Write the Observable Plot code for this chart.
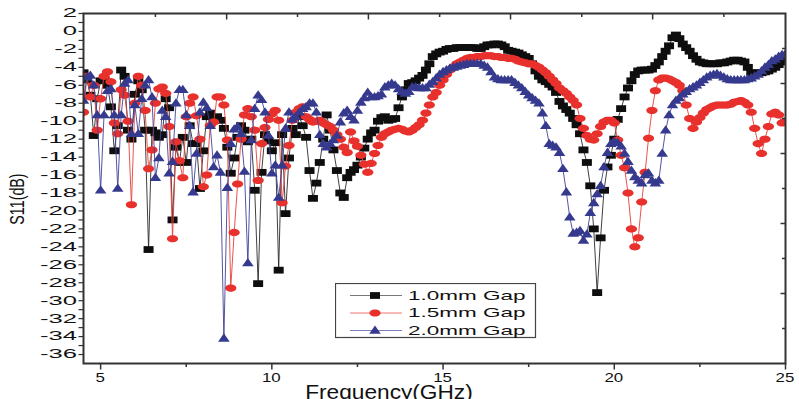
<!DOCTYPE html>
<html><head><meta charset="utf-8">
<script src="https://cdn.jsdelivr.net/npm/d3@7"></script>
<script src="https://cdn.jsdelivr.net/npm/@observablehq/plot@0.6"></script>
<style>
body{margin:0;background:#fff;}
#wrap{position:relative;width:799px;height:399px;overflow:hidden;font-family:"Liberation Sans",Arial,sans-serif;}
#legend{position:absolute;left:335px;top:283px;}
</style></head><body><div id="wrap"></div>
<script>
// ---- data (S11 in dB, sampled every 0.1 GHz from 4.5 GHz) ----
const freqStart = 4.5, freqStep = 0.1;
const seriesNames = ["1.0mm Gap", "1.5mm Gap", "2.0mm Gap"];
const gap10 = [
 -4.6,-5.4,-7.1,-11.6,-7.5,-5.5,-5.4,-6.0,-8.4,-13.3,
 -10.5,-4.3,-5.0,-11.0,-12.0,-7.0,-5.5,-6.5,-11.0,-24.3,
 -11.0,-11.3,-11.8,-11.5,-7.5,-8.5,-21.0,-12.9,-14.6,-11.8,
 -14.6,-10.5,-12.5,-12.5,-17.5,-13.3,-9.5,-9.1,-9.6,-9.5,
 -9.9,-10.8,-12.9,-15.8,-14.1,-11.8,-10.5,-11.0,-12.3,-12.0,
 -17.7,-28.1,-15.7,-11.5,-12.2,-13.3,-12.4,-26.6,-11.5,-20.3,
 -14.1,-10.8,-11.5,-9.5,-10.5,-11.8,-15.5,-18.6,-16.9,-14.6,
 -12.0,-9.3,-11.0,-13.2,-15.5,-18.0,-18.5,-16.3,-15.7,-15.4,
 -14.9,-14.0,-13.0,-12.0,-11.3,-11.0,-10.0,-9.6,-9.5,-9.9,
 -9.8,-9.7,-8.5,-7.3,-6.5,-5.8,-5.7,-5.5,-5.2,-4.9,
 -4.3,-3.6,-2.8,-2.5,-2.3,-2.2,-2.0,-1.9,-1.9,-1.8,
 -1.8,-1.8,-1.8,-1.8,-1.8,-1.9,-1.9,-1.7,-1.5,-1.5,
 -1.4,-1.4,-1.5,-1.7,-2.1,-2.2,-2.3,-2.4,-2.6,-2.8,
 -3.0,-3.6,-4.4,-5.0,-5.4,-5.6,-5.9,-6.2,-6.8,-7.8,
 -8.3,-8.7,-9.1,-9.7,-10.4,-11.4,-13.2,-14.6,-17.2,-22.0,
 -29.1,-23.0,-17.7,-15.1,-13.8,-12.0,-9.8,-8.6,-7.3,-6.3,
 -5.5,-4.8,-4.4,-4.3,-4.3,-4.3,-4.2,-3.8,-3.4,-2.8,
 -2.2,-1.6,-0.7,-0.4,-0.8,-1.4,-1.8,-2.2,-2.7,-3.1,
 -3.4,-3.5,-3.6,-3.6,-3.6,-3.6,-3.5,-3.5,-3.4,-3.3,
 -3.2,-3.2,-3.3,-3.4,-4.0,-4.6,-4.7,-4.6,-4.6,-4.5,
 -4.4,-4.2,-4.0,-3.7,-3.4,-3.1];
const gap15 = [
 -9.0,-5.0,-7.3,-6.0,-11.0,-7.5,-5.0,-4.5,-5.6,-10.2,
 -11.4,-6.5,-7.1,-10.0,-19.3,-8.0,-5.0,-6.0,-8.8,-15.3,
 -13.2,-8.0,-6.4,-6.2,-6.9,-10.6,-23.1,-12.3,-14.4,-16.3,
 -9.5,-8.0,-7.3,-9.4,-12.0,-17.3,-16.0,-10.5,-10.1,-7.3,
 -7.3,-8.2,-12.1,-28.6,-22.4,-17.0,-12.0,-9.3,-8.6,-9.5,
 -11.0,-16.6,-12.5,-10.7,-9.8,-9.2,-8.8,-9.9,-19.1,-15.0,
 -12.7,-9.9,-9.0,-8.6,-8.4,-9.5,-9.8,-10.1,-10.0,-9.9,
 -10.2,-10.4,-10.6,-11.0,-11.5,-12.0,-12.9,-13.5,-11.2,-12.2,
 -12.8,-13.8,-14.8,-15.7,-14.7,-13.6,-12.7,-11.8,-11.4,-11.2,
 -11.0,-10.9,-10.8,-10.9,-11.1,-11.2,-11.0,-10.7,-10.4,-9.9,
 -9.1,-8.2,-7.3,-6.8,-6.0,-5.4,-4.8,-4.3,-4.0,-3.6,
 -3.4,-3.2,-3.0,-2.9,-2.9,-2.8,-2.8,-2.7,-2.7,-2.7,
 -2.8,-2.8,-2.9,-2.9,-3.0,-3.0,-3.1,-3.3,-3.4,-3.5,
 -3.6,-3.6,-3.8,-4.0,-4.3,-4.6,-5.0,-5.4,-5.8,-6.3,
 -6.6,-6.9,-7.3,-7.7,-8.2,-9.7,-10.8,-11.6,-12.0,-12.1,
 -11.4,-10.6,-10.1,-9.9,-9.9,-10.2,-12.1,-13.8,-15.2,-18.0,
 -22.0,-24.0,-23.0,-19.0,-15.7,-11.9,-8.8,-6.6,-5.4,-5.2,
 -5.2,-5.3,-5.5,-5.7,-6.0,-6.6,-8.2,-9.7,-10.8,-10.1,
 -9.6,-9.1,-8.7,-8.5,-8.3,-8.2,-8.2,-8.2,-8.2,-8.1,
 -7.9,-7.8,-7.7,-7.9,-8.2,-9.0,-10.8,-12.5,-13.6,-12.0,
 -10.6,-9.2,-9.0,-9.3,-10.2,-10.0];
const gap20 = [
 -7.7,-5.1,-4.9,-6.0,-9.3,-17.7,-9.3,-6.6,-6.4,-9.3,
 -17.5,-9.3,-5.8,-5.4,-11.4,-8.2,-11.4,-7.5,-6.0,-5.4,
 -7.3,-16.3,-14.1,-8.8,-9.5,-15.8,-14.5,-8.0,-6.5,-6.5,
 -9.3,-10.5,-17.9,-13.6,-9.0,-7.9,-8.5,-10.5,-15.1,-13.8,
 -15.7,-34.2,-17.4,-12.5,-10.9,-10.6,-11.4,-15.6,-25.8,-12.1,
 -8.6,-7.1,-7.6,-9.0,-11.6,-15.8,-14.9,-18.5,-14.9,-10.8,
 -9.0,-9.8,-9.5,-9.0,-8.6,-8.4,-8.0,-8.0,-9.0,-11.5,
 -12.5,-12.9,-12.5,-12.1,-11.6,-10.1,-9.1,-8.8,-9.5,-9.9,
 -8.8,-7.9,-7.4,-6.8,-7.3,-7.3,-7.2,-7.0,-6.2,-6.0,
 -5.8,-6.0,-6.4,-6.7,-6.9,-6.7,-6.2,-6.2,-6.3,-6.3,
 -6.3,-5.9,-5.6,-5.2,-4.8,-4.5,-4.3,-4.1,-4.0,-3.9,
 -3.8,-3.7,-3.6,-3.6,-3.6,-3.6,-3.6,-3.8,-4.0,-4.5,
 -5.1,-5.3,-5.4,-5.4,-5.4,-5.4,-5.7,-6.0,-6.3,-6.7,
 -7.1,-7.4,-7.7,-8.0,-9.1,-10.5,-12.5,-12.7,-12.9,-13.5,
 -15.3,-17.9,-20.7,-22.5,-22.4,-22.2,-23.3,-22.6,-20.2,-19.1,
 -18.1,-17.2,-15.1,-13.5,-12.5,-12.3,-12.4,-12.8,-13.6,-14.5,
 -15.5,-16.2,-16.6,-16.9,-16.0,-15.8,-16.6,-16.9,-16.6,-13.6,
 -11.0,-9.3,-8.2,-7.7,-7.4,-7.0,-6.7,-6.4,-6.2,-6.0,
 -5.7,-5.4,-5.1,-4.9,-4.8,-4.7,-4.9,-5.1,-5.3,-5.4,
 -5.4,-5.4,-5.4,-5.4,-5.3,-5.2,-5.0,-4.8,-4.4,-4.0,
 -3.7,-3.3,-3.1,-2.8,-2.6,-2.5];

// tick labels / tick positions
const xTickLabels = [5, 10, 15, 20, 25];
const xMinorTicks = [7.5, 12.5, 17.5, 22.5];
const yTickLabels = [2,0,-2,-4,-6,-8,-10,-12,-14,-16,-18,-20,-22,-24,-26,-28,-30,-32,-34,-36];
const yMinorTicks = [1,-1,-3,-5,-7,-9,-11,-13,-15,-17,-19,-21,-23,-25,-27,-29,-31,-33,-35];
const topMajorTicks = [8.68, 12.82, 16.97, 21.12];
const topMinorTicks = [6.6, 10.75, 14.9, 19.05, 23.2];
const rightMajorTicks = [-5.8, -13.6, -21.4, -29.2];
const rightMinorTicks = [-1.9, -9.7, -17.5, -25.3, -33.1];
const xTitle = "Frequency(GHz)";
const yTitle = "S11(dB)";

// ---- build table ----
const allValues = [gap10, gap15, gap20];
const freq = gap10.map((_, i) => +(freqStart + i * freqStep).toFixed(2));
const tables = allValues.map((vals, s) => vals.map((v, i) => ({f: freq[i], s11: v, series: seriesNames[s]})));

// ---- marker shapes ----
const symSquare = {draw(c){ c.moveTo(-5,-3.4); c.lineTo(5,-3.4); c.lineTo(5,3.4); c.lineTo(-5,3.4); c.closePath(); }};
const symEllipse = {draw(c){ const n=28; for(let k=0;k<n;k++){ const a=2*Math.PI*k/n, px=5.6*Math.cos(a), py=3.6*Math.sin(a); if(k) c.lineTo(px,py); else c.moveTo(px,py);} c.closePath(); }};
const symTri = {draw(c){ c.moveTo(0,-5); c.lineTo(5.8,3.3); c.lineTo(-5.8,3.3); c.closePath(); }};
const tickH = (len) => ({draw(c){ c.moveTo(0,0); c.lineTo(len,0); }});
const tickV = (len) => ({draw(c){ c.moveTo(0,0); c.lineTo(0,len); }});

const markerSyms = [symSquare, symEllipse, symTri];
const markerColors = ["#0e0e0e", "#e8302c", "#363a8e"];
const lineColors = ["#2a2a2a", "#e8403a", "#3f4296"];
const legendLineColors = ["#777", "#ee7773", "#7d80bb"];

const seriesMarks = tables.flatMap((t, s) => [
  Plot.line(t, {x: "f", y: "s11", stroke: lineColors[s], strokeWidth: 0.9, clip: true}),
  Plot.dot(t, {x: "f", y: "s11", symbol: markerSyms[s], fill: markerColors[s], stroke: "none", r: 3, clip: true})
]);

const axisColor = "#333";
const font = '"Liberation Sans", Arial, sans-serif';

const chart = Plot.plot({
  width: 799, height: 399,
  marginLeft: 83, marginRight: 14, marginTop: 13, marginBottom: 36,
  x: {domain: [4.5, 25], axis: null},
  y: {domain: [-37, 2], axis: null},
  style: {fontFamily: font, background: "#fff", color: "#222"},
  marks: [
    ...seriesMarks,
    Plot.frame({stroke: axisColor, strokeWidth: 2}),
    Plot.dot(yTickLabels.concat(yMinorTicks), {y: d => d, frameAnchor: "left", symbol: tickH(-5), fill: "none", stroke: axisColor, strokeWidth: 1.2}),
    Plot.dot(xTickLabels, {x: d => d, frameAnchor: "bottom", symbol: tickV(6), fill: "none", stroke: axisColor, strokeWidth: 1.5}),
    Plot.dot(xMinorTicks, {x: d => d, frameAnchor: "bottom", symbol: tickV(3.5), fill: "none", stroke: axisColor, strokeWidth: 1.5}),
    Plot.dot(topMajorTicks, {x: d => d, frameAnchor: "top", symbol: tickV(6), fill: "none", stroke: axisColor, strokeWidth: 1.5}),
    Plot.dot(topMinorTicks, {x: d => d, frameAnchor: "top", symbol: tickV(3.5), fill: "none", stroke: axisColor, strokeWidth: 1.5}),
    Plot.dot(rightMajorTicks, {y: d => d, frameAnchor: "right", symbol: tickH(-5), fill: "none", stroke: axisColor, strokeWidth: 1.5}),
    Plot.dot(rightMinorTicks, {y: d => d, frameAnchor: "right", symbol: tickH(-3.5), fill: "none", stroke: axisColor, strokeWidth: 1.5})
  ]
});

const wrap = document.getElementById("wrap");
wrap.appendChild(chart);

// ---- axis texts, placed through Plot's own scales; glyphs stretched as in the figure ----
const sx = chart.scale("x"), sy = chart.scale("y");
const svg = d3.select(chart);
const xLeft = sx.apply(4.5), yBottom = sy.apply(-37), yTop = sy.apply(2);
const g = svg.append("g").attr("font-family", font).attr("fill", "#111").attr("text-anchor", "start");

// anchor: 0 = start, 0.5 = middle, 1 = end (measured, then scaled about the anchor point)
function label(str, px, py, size, stretch, anchor, rotate, dy) {
  const t = g.append("text").attr("text-anchor", "start").attr("font-size", size).attr("dy", dy).text(str);
  const w = t.node().getComputedTextLength();
  t.attr("x", (-w * anchor).toFixed(2))
   .attr("transform", `translate(${px},${py})${rotate ? ` rotate(${rotate})` : ""} scale(${stretch},1)`);
  return t;
}
yTickLabels.forEach(v => label(String(v), xLeft - 6, sy.apply(v), 12.5, 2.05, 1, 0, "0.35em"));
xTickLabels.forEach(v => label(String(v), sx.apply(v), yBottom + 14.5, 12.5, 1.35, 0.5, 0, "0.35em"));
label(xTitle, (sx.apply(4.5) + sx.apply(25)) / 2 - 45, yBottom + 21.5, 21, 1.08, 0.5, 0, "0.71em");
label(yTitle, xLeft - 66, (yTop + yBottom) / 2 + 11, 21, 0.68, 0.5, -90, "0.35em");

// ---- legend (overlay) ----
const lg = d3.select(wrap).append("svg").attr("id", "legend").attr("width", 202).attr("height", 56);
lg.append("rect").attr("x", 0.5).attr("y", 0.5).attr("width", 200).attr("height", 54)
  .attr("fill", "#fff").attr("stroke", "#444").attr("stroke-width", 1.2);
seriesNames.forEach((name, s) => {
  const cy = 12.5 + s * 17.5;
  lg.append("line").attr("x1", 15).attr("x2", 67).attr("y1", cy).attr("y2", cy)
    .attr("stroke", legendLineColors[s]).attr("stroke-width", 1.2);
  lg.append("path").attr("d", d3.symbol(markerSyms[s])()).attr("transform", `translate(40,${cy})`).attr("fill", markerColors[s]);
  lg.append("text").attr("dy", "0.35em").attr("text-anchor", "start")
    .attr("transform", `translate(73,${cy}) scale(1.8,1)`)
    .attr("font-family", font).attr("font-size", 12.5).attr("fill", "#111").text(name);
});
</script>
</body></html>
